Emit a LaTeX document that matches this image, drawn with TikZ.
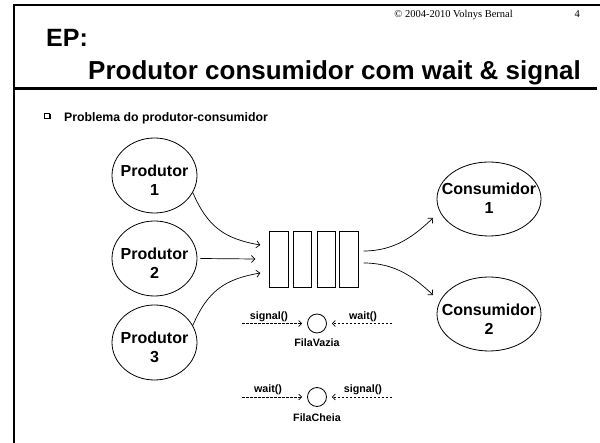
\documentclass[tikz,border=0pt]{standalone}
\usepackage{fontspec}
\setmainfont{Liberation Sans}
\newfontfamily\seriffont{Liberation Serif}
\usetikzlibrary{shapes.geometric,arrows.meta}
\begin{document}
\begin{tikzpicture}[x=1pt,y=-1pt,
 frameline/.style={line width=2.6pt},
 prodell/.style={draw, ellipse, line width=0.8pt, minimum width=85pt, minimum height=75pt, inner sep=0pt},
 consell/.style={draw, ellipse, line width=0.8pt, minimum width=104pt, minimum height=74pt, inner sep=0pt},
 elltext/.style={font=\bfseries\fontsize{16}{19}\selectfont, align=center, inner sep=0pt},
 slot/.style={draw, line width=0.8pt, minimum width=18.5pt, minimum height=56pt, inner sep=0pt},
 arr/.style={line width=0.7pt, -{Straight Barb[length=3.5pt,width=7pt]}},
 sem/.style={draw, circle, line width=0.8pt, minimum size=19pt, inner sep=0pt},
 dasharr/.style={line width=0.7pt, dash pattern=on 2.5pt off 1.5pt, -{Straight Barb[length=3pt,width=6pt]}, shorten >=5pt},
 semlabel/.style={font=\bfseries\fontsize{10.7}{12}\selectfont, inner sep=0pt, anchor=base},
]
\useasboundingbox (0,0) rectangle (600,443);
% frame
\draw[frameline] (14,443) -- (14,5) -- (600,5);
\draw[frameline] (14,88.5) -- (597,88.5);
% header
\node[font=\seriffont\fontsize{10.5}{12}\selectfont, anchor=base east, inner sep=0pt] (copy) at (513,18) {© 2004-2010 Volnys Bernal};
\node[font=\seriffont\fontsize{10.5}{12}\selectfont, anchor=base east, inner sep=0pt] (pg) at (580,18) {4};
\node[font=\bfseries\fontsize{25}{28}\selectfont, anchor=base west, inner sep=0pt] (ep) at (46,46.5) {EP:};
\node[font=\bfseries\fontsize{26}{30}\selectfont, anchor=base west, inner sep=0pt] (title) at (88,79.5) {Produtor consumidor com wait \& signal};
% bullet
\fill[black] (45,114) rectangle (50.5,119.5);
\fill[white] (44,113) rectangle (49,118);
\draw[line width=0.6pt] (44,113) rectangle (49,118);
\node[font=\bfseries\fontsize{12.3}{14}\selectfont, anchor=base west, inner sep=0pt] (prob) at (64,121.4) {Problema do produtor-consumidor};
% producers
\node[prodell] (p1) at (154.5,175.5) {};
\node[elltext] (p1t) at (154.5,180) {Produtor\\1};
\node[prodell] (p2) at (154.5,258.5) {};
\node[elltext] (p2t) at (154.5,263) {Produtor\\2};
\node[prodell] (p3) at (154.5,342.5) {};
\node[elltext] (p3t) at (154.5,347) {Produtor\\3};
% consumers
\node[consell] (c1) at (489,199) {};
\node[elltext] (c1t) at (489,198.5) {Consumidor\\1};
\node[consell] (c2) at (489,314) {};
\node[elltext] (c2t) at (489,319.5) {Consumidor\\2};
% queue
\node[slot] (q1) at (279,259) {};
\node[slot] (q2) at (302.5,259) {};
\node[slot] (q3) at (326.5,259) {};
\node[slot] (q4) at (349,259) {};
% arrows in
\draw[arr] (p1.-24) .. controls +(15,35) and +(-35,-6) .. ([shift={(-9pt,14pt)}]q1.west);
\draw[arr] ([xshift=3pt]p2.east) -- ([xshift=-14pt]q1.west);
\draw[arr] (p3.24) .. controls +(15,-35) and +(-35,6) .. ([shift={(-9pt,-14pt)}]q1.west);
% arrows out
\draw[arr] ([shift={(5pt,8pt)}]q4.east) .. controls +(32,0) and +(-18,17) .. ([shift={(-56pt,-19pt)}]c1.center);
\draw[arr] ([shift={(5pt,-4pt)}]q4.east) .. controls +(32,0) and +(-18,-17) .. ([shift={(-56pt,19pt)}]c2.center);
% FilaVazia
\node[sem] (fv) at (317,323.5) {};
\coordinate (fvl) at (242,323.5);
\coordinate (fvr) at (392,323.5);
\draw[dasharr] (fvl) -- (fv.west);
\draw[dasharr] (fvr) -- (fv.east);
\node[semlabel] (fvs) at (269,320) {signal()};
\node[semlabel] (fvw) at (363,320) {wait()};
\node[semlabel] (fvn) at (317,347) {FilaVazia};
% FilaCheia
\node[sem] (fc) at (317,397) {};
\coordinate (fcl) at (242,397);
\coordinate (fcr) at (392,397);
\draw[dasharr] (fcl) -- (fc.west);
\draw[dasharr] (fcr) -- (fc.east);
\node[semlabel] (fcw) at (268,392.5) {wait()};
\node[semlabel] (fcs) at (363,392.5) {signal()};
\node[semlabel] (fcn) at (317,421.5) {FilaCheia};
\end{tikzpicture}
\end{document}
